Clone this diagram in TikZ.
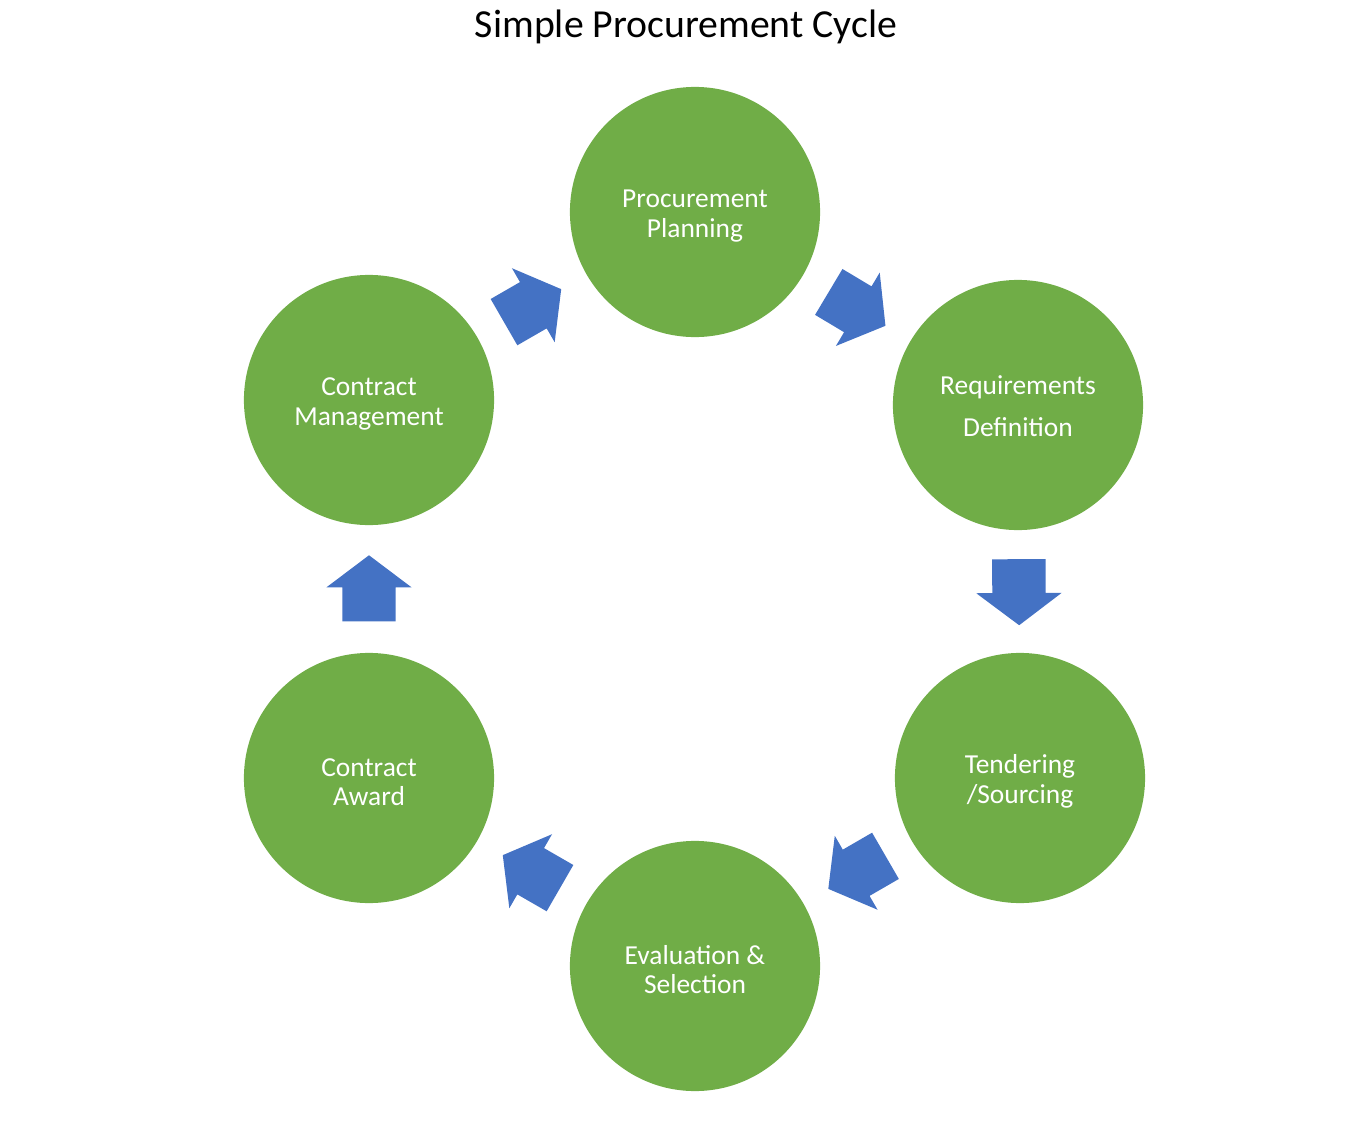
\documentclass[tikz,border=0pt]{standalone}
\usepackage{fontspec}
\setmainfont{Carlito}
\usetikzlibrary{shapes.arrows,calc}
\definecolor{stagegreen}{HTML}{70AD47}
\definecolor{arrowblue}{HTML}{4472C4}

\begin{document}
\begin{tikzpicture}[x=0.01cm,y=-0.01cm]
\tikzstyle{every node}+=[inner sep=0pt]
\tikzstyle{stage}=[circle, fill=stagegreen, minimum size=2.5cm, text=white, align=center, text height=0.56cm, font=\fontsize{7.8}{8.5}\selectfont]
\tikzstyle{cyclearrow}=[single arrow, fill=arrowblue, anchor=tail, inner xsep=0pt, inner ysep=0.26cm, minimum height=0.66cm, single arrow head extend=0.16cm, single arrow tip angle=106]
\useasboundingbox (0,0) rectangle (1362,1130);
\node (title) at (686,27) {\fontsize{11.3}{13}\selectfont Simple Procurement Cycle};
\node [stage] (plan) at (695,212) {Procurement\\Planning};
\node [stage, font=\fontsize{7.8}{12}\selectfont, text height=0.64cm] (req) at (1018,405) {Requirements\\Definition};
\node [stage] (tender) at (1020,778) {Tendering\\/Sourcing};
\node [stage] (eval) at (695,966) {Evaluation \&\\Selection};
\node [stage] (award) at (369,778) {Contract\\Award};
\node [stage] (mgmt) at (369,400) {Contract\\Management};
\path let \p1=($(plan)-(mgmt)$), \n1={atan2(\y1,\x1)} in node [cyclearrow, rotate=\n1] (arrmp) at ($(mgmt)!0.5!(plan)!0.33cm!(mgmt)$) {};
\path let \p1=($(req)-(plan)$), \n1={atan2(\y1,\x1)} in node [cyclearrow, rotate=\n1] (arrpr) at ($(plan)!0.5!(req)!0.33cm!(plan)$) {};
\path let \p1=($(tender)-(req)$), \n1={atan2(\y1,\x1)} in node [cyclearrow, rotate=\n1] (arrrt) at ($(req)!0.5!(tender)!0.33cm!(req)$) {};
\path let \p1=($(eval)-(tender)$), \n1={atan2(\y1,\x1)} in node [cyclearrow, rotate=\n1] (arrte) at ($(tender)!0.5!(eval)!0.33cm!(tender)$) {};
\path let \p1=($(award)-(eval)$), \n1={atan2(\y1,\x1)} in node [cyclearrow, rotate=\n1] (arrea) at ($(eval)!0.5!(award)!0.33cm!(eval)$) {};
\path let \p1=($(mgmt)-(award)$), \n1={atan2(\y1,\x1)} in node [cyclearrow, rotate=\n1] (arram) at ($(award)!0.5!(mgmt)!0.33cm!(award)$) {};
\end{tikzpicture}
\end{document}
